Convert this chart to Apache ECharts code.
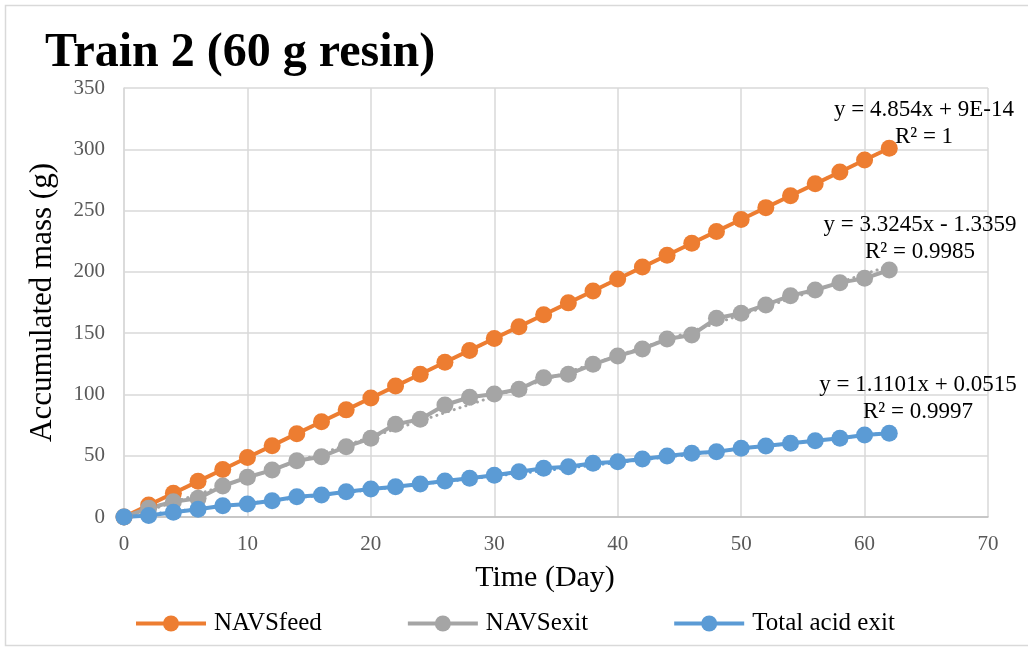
<!DOCTYPE html>
<html>
<head>
<meta charset="utf-8">
<title>Train 2 (60 g resin)</title>
<script src="https://cdn.jsdelivr.net/npm/echarts@6/dist/echarts.min.js"></script>
<style>
  html, body { margin: 0; padding: 0; background: #ffffff; }
  #chart { width: 1028px; height: 648px; }
</style>
</head>
<body>
<div id="chart"></div>
<script>
// Sampling days
const days = [0, 2, 4, 6, 8, 10, 12, 14, 16, 18, 20, 22, 24, 26, 28, 30,
              32, 34, 36, 38, 40, 42, 44, 46, 48, 50, 52, 54, 56, 58, 60, 62];

// Accumulated mass (g)
const navsFeed = [0, 9.7, 19.4, 29.1, 38.8, 48.5, 58.2, 68.0, 77.7, 87.4, 97.1, 106.8,
                  116.5, 126.2, 135.9, 145.6, 155.3, 165.0, 174.7, 184.4, 194.2, 203.9,
                  213.6, 223.3, 233.0, 242.7, 252.4, 262.1, 271.8, 281.5, 291.2, 300.9];
const navsExit = [0, 7.1, 12.5, 15.2, 25.3, 32.4, 38.3, 45.9, 49.2, 57.4, 64.2, 75.6,
                  79.7, 91.4, 97.7, 100.4, 104.2, 113.7, 116.4, 124.6, 131.4, 137.1,
                  145.2, 148.5, 162.1, 166.2, 173.0, 180.6, 185.2, 191.2, 194.7, 201.5];
const totalAcidExit = [0, 1.2, 3.8, 6.3, 9.2, 10.6, 13.3, 16.6, 17.9, 20.6, 22.8, 24.7,
                       26.9, 29.4, 31.6, 34.0, 37.0, 39.7, 41.0, 43.8, 45.1, 47.3,
                       49.8, 52.0, 53.3, 56.0, 57.9, 60.1, 62.3, 64.2, 66.9, 68.3];

const seriesNames = ['NAVSfeed', 'NAVSexit', 'Total acid exit'];
const seriesColors = ['#ED7D31', '#A5A5A5', '#5B9BD5'];

// Linear trendline fits (slope, intercept, R²) as reported on the chart
const fitSlopes = [4.854, 3.3245, 1.1101];
const fitIntercepts = [9e-14, -1.3359, 0.0515];
const fitLabels = [
  ['y = 4.854x + 9E-14', 'R² = 1'],
  ['y = 3.3245x - 1.3359', 'R² = 0.9985'],
  ['y = 1.1101x + 0.0515', 'R² = 0.9997']
];

// Axis ticks
const xTicks = { min: 0, max: 70, interval: 10 };
const yTicks = { min: 0, max: 350, interval: 50 };

const FONT = '"Liberation Serif", "Times New Roman", serif';
const allValues = [navsFeed, navsExit, totalAcidExit];

const chart = echarts.init(document.getElementById('chart'), null, { renderer: 'canvas' });

const dataSeries = allValues.map((vals, i) => ({
  name: seriesNames[i],
  type: 'line',
  data: days.map((d, k) => [d, vals[k]]),
  symbol: 'circle',
  symbolSize: 17,
  itemStyle: { color: seriesColors[i] },
  lineStyle: { color: seriesColors[i], width: 4 },
  z: 3
}));

// Trendlines span the measured day range
const trendSeries = fitSlopes.map((a, i) => {
  const x0 = days[0], x1 = days[days.length - 1];
  return {
    name: seriesNames[i] + ' trend',
    type: 'line',
    data: [[x0, a * x0 + fitIntercepts[i]], [x1, a * x1 + fitIntercepts[i]]],
    symbol: 'none',
    silent: true,
    lineStyle: { color: seriesColors[i], width: 3, type: [0.1, 6], cap: 'round' },
    z: 2
  };
});

// Equation labels (centre points) beside each series' last point
const labelCentres = [[924, 123], [920, 238], [918, 398]];
const eqGraphics = fitLabels.map((lines, i) => ({
  type: 'text',
  x: labelCentres[i][0],
  y: labelCentres[i][1],
  style: {
    text: lines.join('\n'),
    font: '23px ' + FONT,
    fill: '#000000',
    align: 'center',
    verticalAlign: 'middle',
    lineHeight: 27
  },
  z: 10
}));

chart.setOption({
  animation: false,
  backgroundColor: '#ffffff',
  title: {
    text: 'Train 2 (60 g resin)',
    left: 40,
    top: 25,
    textStyle: { fontFamily: FONT, fontSize: 48, fontWeight: 'bold', color: '#000000' }
  },
  grid: { left: 124, right: 40, top: 88, bottom: 131, containLabel: false },
  legend: {
    data: seriesNames,
    bottom: 7,
    left: 129,
    itemWidth: 70,
    itemHeight: 20,
    itemGap: 84,
    lineStyle: { width: 4 },
    textStyle: { fontFamily: FONT, fontSize: 25, color: '#000000', padding: [0, 0, 0, 3] }
  },
  xAxis: {
    type: 'value',
    min: xTicks.min, max: xTicks.max, interval: xTicks.interval,
    name: 'Time (Day)',
    nameLocation: 'middle',
    nameGap: 46,
    nameTextStyle: { fontFamily: FONT, fontSize: 30, color: '#000000', padding: [0, 22, 0, 0] },
    axisLine: { show: true, lineStyle: { color: '#BFBFBF', width: 1.5 } },
    axisTick: { show: false },
    axisLabel: { fontFamily: FONT, fontSize: 21, color: '#595959', margin: 17 },
    splitLine: { show: true, lineStyle: { color: '#D9D9D9', width: 1.5 } }
  },
  yAxis: {
    type: 'value',
    min: yTicks.min, max: yTicks.max, interval: yTicks.interval,
    name: 'Accumulated mass (g)',
    nameLocation: 'middle',
    nameRotate: 90,
    nameGap: 66,
    nameTextStyle: { fontFamily: FONT, fontSize: 31, color: '#000000' },
    axisLine: { show: true, lineStyle: { color: '#D9D9D9', width: 1.5 } },
    axisTick: { show: false },
    axisLabel: { fontFamily: FONT, fontSize: 21, color: '#595959', margin: 19 },
    splitLine: { show: true, lineStyle: { color: '#D9D9D9', width: 1.5 } }
  },
  graphic: [
    {
      type: 'rect',
      shape: { x: 5.5, y: 5.5, width: 1040, height: 640 },
      style: { fill: 'none', stroke: '#D9D9D9', lineWidth: 1.5 },
      silent: true,
      z: -1
    }
  ].concat(eqGraphics),
  series: trendSeries.concat(dataSeries)
});
</script>
</body>
</html>
